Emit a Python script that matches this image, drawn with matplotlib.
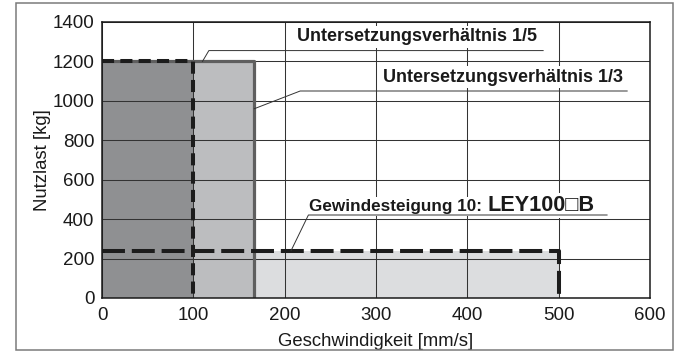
import matplotlib
matplotlib.use("Agg")
import matplotlib.pyplot as plt
from matplotlib.patches import Rectangle

plt.rcParams["font.family"] = ["Liberation Sans", "DejaVu Sans"]

# Operating ranges: max speed [mm/s] and max payload [kg]
ranges = ["Untersetzungsverhältnis 1/5", "Untersetzungsverhältnis 1/3", "Gewindesteigung 10"]
max_speed = [100, 500 / 3, 500]
max_load = [1200, 1200, 240]
fill_colors = ["#8f9092", "#bcbdbf", "#dcdddf"]

x_ticks = [0, 100, 200, 300, 400, 500, 600]
y_ticks = [0, 200, 400, 600, 800, 1000, 1200, 1400]
x_label = "Geschwindigkeit [mm/s]"
y_label = "Nutzlast [kg]"
model_prefix = "Gewindesteigung 10: "
model_name = "LEY100\u25a1B"

W, H = 677, 352
fig = plt.figure(figsize=(W / 100, H / 100), dpi=100)
ax = fig.add_axes([102 / W, 1 - 298 / H, 548 / W, 276 / H])

# outer frame around the whole figure
fig.patches.append(Rectangle((16 / W, 2 / H), 657 / W, 347 / H, transform=fig.transFigure,
                             fill=False, edgecolor="#7a7a7a", linewidth=1.1))

# filled operating areas, widest first so the narrower ones sit on top
order = [2, 1, 0]
for i in order:
    ax.bar(0, max_load[i], width=max_speed[i], align="edge", color=fill_colors[i],
           edgecolor="none", zorder=1)

ax.set_xlim(x_ticks[0], x_ticks[-1])
ax.set_ylim(y_ticks[0], y_ticks[-1])
ax.set_xticks(x_ticks)
ax.set_yticks(y_ticks)
ax.grid(True, color="#333333", linewidth=0.75, zorder=2)
ax.set_axisbelow(False)
for gl in ax.get_xgridlines() + ax.get_ygridlines():
    gl.set_zorder(2)

# solid outline of the 1/3 range
ax.plot([0, max_speed[1], max_speed[1]], [max_load[1], max_load[1], 0],
        color="#5f5f5f", linewidth=2.3, solid_capstyle="butt", zorder=3)

# dashed outline of the 1/5 range
l5, = ax.plot([0, max_speed[0], max_speed[0]], [max_load[0], max_load[0], 0],
              color="#1c1c1c", linewidth=2.9, zorder=4)
l5.set_dashes([3.0, 1.55])
l5.set_dash_capstyle("butt")

# dashed outline of the lead 10 range
l10, = ax.plot([0, max_speed[2], max_speed[2]], [max_load[2], max_load[2], 0],
               color="#1c1c1c", linewidth=2.9, zorder=4)
l10.set_dashes([5.7, 1.7])
l10.set_dash_capstyle("butt")

for s in ax.spines.values():
    s.set_color("#1a1a1a")
    s.set_linewidth(1.1)
    s.set_zorder(6)

ax.tick_params(length=0, labelsize=13.5, colors="#1a1a1a")
ax.tick_params(axis="x", pad=6.5)
ax.tick_params(axis="y", pad=5.5)
ax.set_xlabel(x_label, fontsize=13.3, color="#1a1a1a")
ax.set_ylabel(y_label, fontsize=13.3, color="#1a1a1a")
ax.xaxis.set_label_coords(0.5, -0.125)
ax.yaxis.set_label_coords(-0.093, 0.5)

leader_kw = dict(color="#333333", linewidth=0.7, zorder=5, clip_on=False)
box_kw = dict(facecolor="white", edgecolor="none", pad=1.5)

# label for ratio 1/5
ax.text(214, 1324, ranges[0], fontsize=13, fontweight="bold", ha="left", va="center",
        color="#1a1a1a", bbox=box_kw, zorder=5)
ax.plot([483, 117, 110], [1255, 1255, max_load[0]], **leader_kw)

# label for ratio 1/3
ax.text(308, 1121, ranges[1], fontsize=13, fontweight="bold", ha="left", va="center",
        color="#1a1a1a", bbox=box_kw, zorder=5)
ax.plot([575, 217, max_speed[1]], [1050, 1050, 960], **leader_kw)

# label for lead 10 (model name set larger)
t1 = ax.text(227, 440, model_prefix, fontsize=12.3, fontweight="bold", ha="left",
             va="baseline", color="#1a1a1a", bbox=box_kw, zorder=5)
ax.annotate(model_name, xy=(1, 440), xycoords=(t1, "data"), fontsize=15.6,
            fontweight="bold", ha="left", va="baseline", color="#1a1a1a",
            bbox=box_kw, zorder=5)
ax.plot([553, 226, 207], [421, 421, max_load[2]], **leader_kw)

fig.savefig("out.png", dpi=100)
